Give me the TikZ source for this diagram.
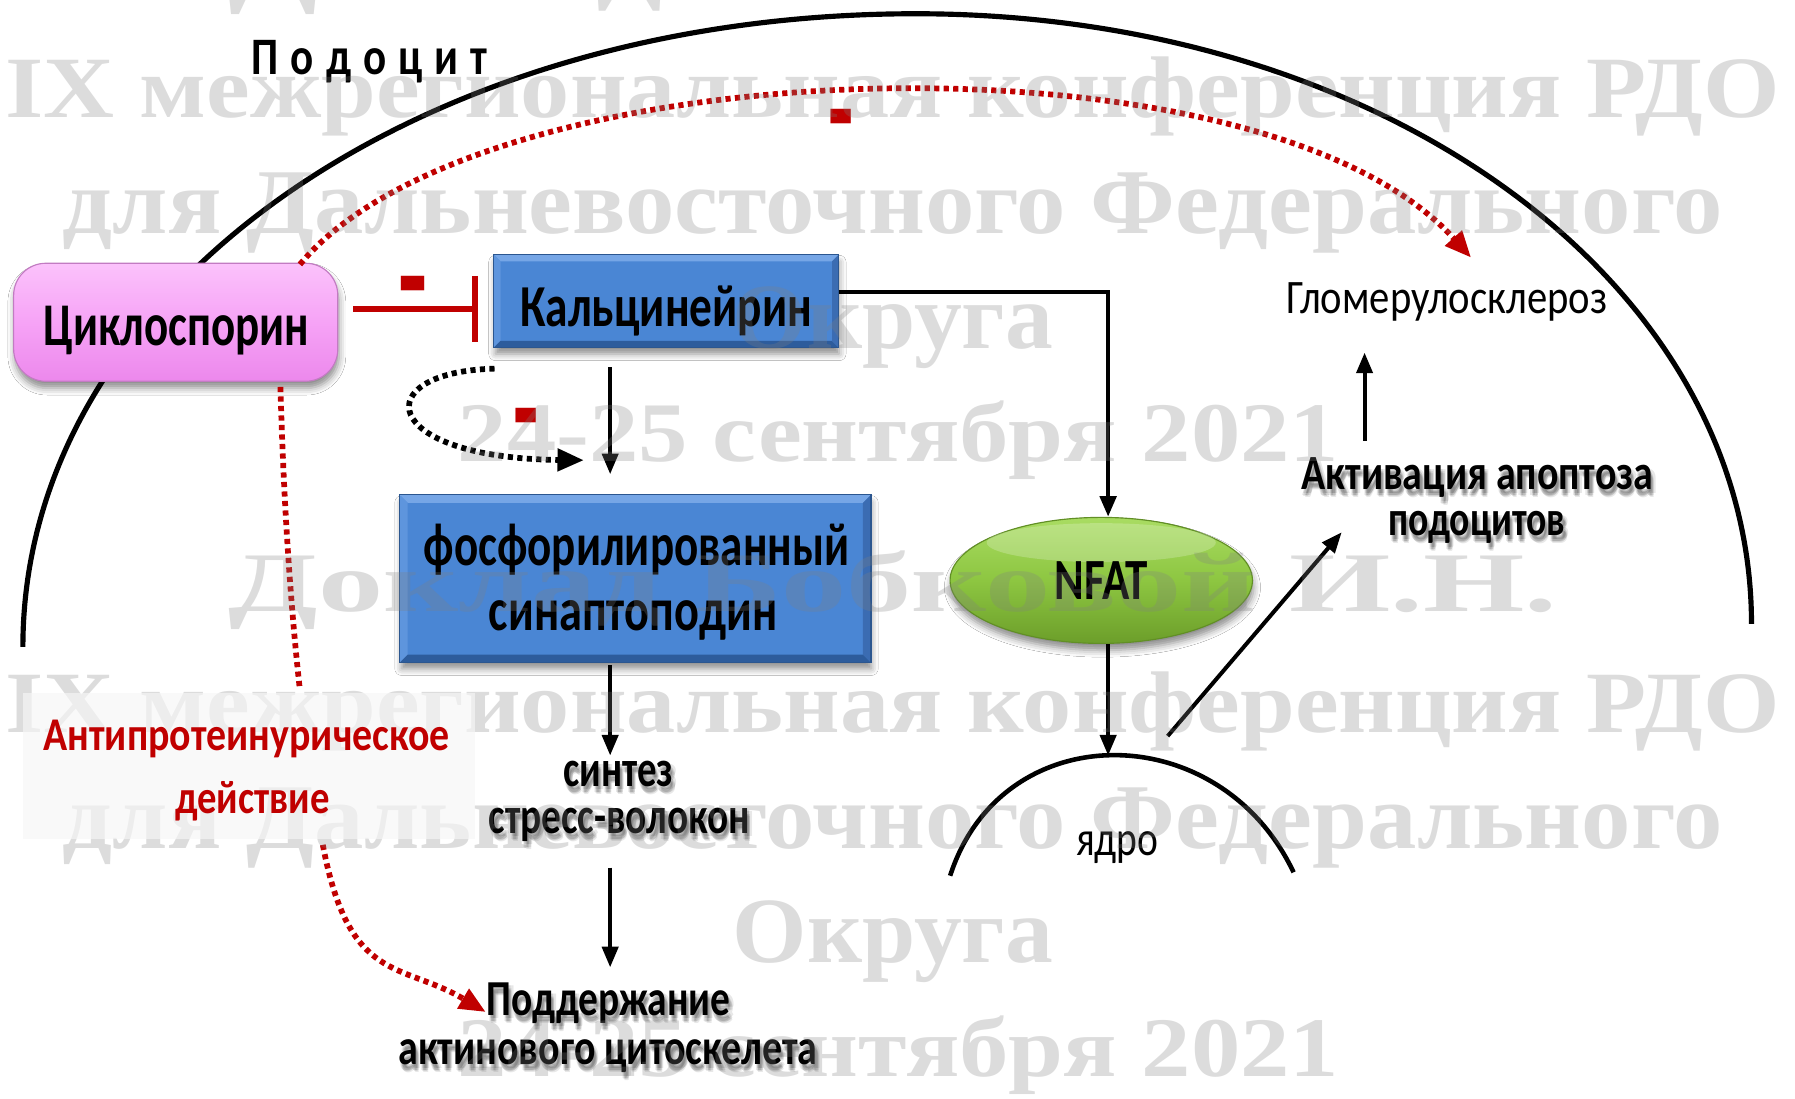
\documentclass[tikz,border=0pt]{standalone}
\usepackage{fontspec}
\setmainfont{Carlito}
\newfontfamily\wmfont{Liberation Serif}
\usetikzlibrary{arrows.meta,shapes.geometric,shadows.blur}

\newlength\upx
\setlength\upx{0.01cm}
% label of a fixed width: width, font size, text
\newcommand\fw[3]{\resizebox{#1\upx}{\height}{\fontsize{#2\upx}{#2\upx}\selectfont #3}}
% background line of a fixed width and cap height
\newcommand\wmline[3]{\resizebox{#1\upx}{#2\upx}{\wmfont\bfseries #3}}
% label with a soft shadow: options, name, base point, text
\newcommand\stxt[4][]{%
  \foreach \sx/\sy in {2/3,3/5,1/5,4/3,2/6,3/7}{\node[lbl,#1,opacity=0.09] at ([shift={(\sx,\sy)}]#3) {#4};}
  \node[lbl,#1] (#2) at (#3) {#4};}
% bevelled edges of a box: node, bevel width
\newcommand\bevel[2]{%
  \fill[bluetop] (#1.north west) -- (#1.north east) -- ([shift={(-#2,#2)}]#1.north east) -- ([shift={(#2,#2)}]#1.north west) -- cycle;
  \fill[blueleft] (#1.north west) -- ([shift={(#2,#2)}]#1.north west) -- ([shift={(#2,-#2)}]#1.south west) -- (#1.south west) -- cycle;
  \fill[bluebot] (#1.south west) -- ([shift={(#2,-#2)}]#1.south west) -- ([shift={(-#2,-#2)}]#1.south east) -- (#1.south east) -- cycle;
  \fill[blueright] (#1.south east) -- ([shift={(-#2,-#2)}]#1.south east) -- ([shift={(-#2,#2)}]#1.north east) -- (#1.north east) -- cycle;
  \draw[blueedge, line width=0.01cm] (#1.north west) rectangle (#1.south east);}

\definecolor{redc}{HTML}{C00000}
\definecolor{bluemain}{HTML}{4A86D4}
\definecolor{bluetop}{HTML}{76A6E6}
\definecolor{blueleft}{HTML}{5E95DD}
\definecolor{bluebot}{HTML}{2D5C9C}
\definecolor{blueright}{HTML}{3B6CB2}
\definecolor{blueedge}{HTML}{2B568F}
\definecolor{pinktop}{HTML}{FBC2FB}
\definecolor{pinkmid}{HTML}{F6A3F6}
\definecolor{pinkbot}{HTML}{EC88EC}
\definecolor{pinkedge}{HTML}{C27BC2}
\definecolor{greentop}{HTML}{A9DC62}
\definecolor{greenmid}{HTML}{8DC641}
\definecolor{greenbot}{HTML}{6C9E2A}
\definecolor{greenedge}{HTML}{618F25}

\begin{document}
\begin{tikzpicture}[x=0.01cm, y=-0.01cm,
  lbl/.style={inner sep=0, anchor=base, text=black},
  wm/.style={inner sep=0, anchor=base, text=gray, opacity=0.27},
  boxshadow/.style={blur shadow={shadow xshift=0.01cm, shadow yshift=-0.06cm, shadow blur radius=0.06cm, shadow opacity=45}},
  bluebox/.style={rectangle, inner sep=0, fill=bluemain, boxshadow},
  arr/.style={line width=0.035cm, -{Triangle[length=0.18cm, width=0.14cm]}},
  dottip/.style={-{Triangle[length=0.23cm, width=0.19cm]}},
  reddot/.style={draw=redc, line width=0.05cm, dash pattern=on 0.045cm off 0.038cm},
  blackdot/.style={draw=black, line width=0.05cm, dash pattern=on 0.045cm off 0.038cm},
  minus/.style={inner sep=0, text=redc, font=\fontsize{72\upx}{72\upx}\selectfont\bfseries}]

\useasboundingbox (0,0) rectangle (1568,960);
\fill[white] (0,0) rectangle (1568,960);

% cell membrane
\draw[line width=0.045cm] (20,565) .. controls (20,255) and (363,12) .. (800,12)
  .. controls (1209,12) and (1530,247) .. (1530,545);
\node[lbl] (podo) at (323,65) {\fw{206}{46}{\bfseries П\kern.28emо\kern.28emд\kern.28emо\kern.28emц\kern.28emи\kern.28emт}};

% boxes
\node[rectangle, rounded corners=0.28cm, minimum width=2.83cm, minimum height=1.03cm,
  top color=pinktop, bottom color=pinkbot, middle color=pinkmid, draw=pinkedge, line width=0.01cm, boxshadow]
  (cyc) at (153.5,281.5) {};
\node[bluebox, minimum width=3.00cm, minimum height=0.80cm] (calc) at (582,263) {};
\bevel{calc}{6}
\node[bluebox, minimum width=4.10cm, minimum height=1.45cm] (phos) at (555,505.5) {};
\bevel{phos}{7}
\node[ellipse, minimum width=2.64cm, minimum height=1.10cm, inner sep=0,
  top color=greentop, bottom color=greenbot, middle color=greenmid, draw=greenedge, line width=0.01cm, boxshadow]
  (nfat) at (962,507) {};
\fill[white, opacity=0.22] (962,474) ellipse [x radius=1.0cm, y radius=0.17cm];

% labels
\node[lbl] (cyct) at (154,302) {\fw{232}{53}{\bfseries Циклоспорин}};
\node[lbl] (calct) at (582,285) {\fw{255}{52}{\bfseries Кальцинейрин}};
\node[lbl] (phos1) at (556,494) {\fw{372}{53}{\bfseries фосфорилированный}};
\node[lbl] (phos2) at (553,551) {\fw{252}{53}{\bfseries синаптоподин}};
\node[lbl] (nfatt) at (962,524) {\fw{82}{51}{\bfseries NFAT}};
\stxt{syn1}{540,687}{\fw{96}{45}{\bfseries синтез}}
\stxt{syn2}{541,728}{\fw{228}{45}{\bfseries стресс-волокон}}
\stxt{supp1}{531.5,887}{\fw{213}{44}{\bfseries Поддержание}}
\stxt{supp2}{531,930}{\fw{366}{44}{\bfseries актинового цитоскелета}}
\stxt{apo1}{1290.5,428}{\fw{307}{43}{\bfseries Активация апоптоза}}
\stxt{apo2}{1290,468}{\fw{155}{43}{\bfseries подоцитов}}
\node[lbl] (glomt) at (1264,274) {\fw{280}{42}{Гломерулосклероз}};
\node[lbl] (nuct) at (976,747) {\fw{72}{43}{ядро}};

% nucleus
\coordinate (nuc) at (968,660);
\draw[line width=0.04cm] (830,765) .. controls (875,625) and (1065,625) .. (1130,762);

% helper verticals and levels
\coordinate (ax) at (533,0);
\coordinate (bx) at (968,0);
\coordinate (inh) at (0,270);
\coordinate (lev) at (0,255);

% inhibition of calcineurin
\draw[redc, line width=0.05cm, shorten <=0.13cm, shorten >=0.14cm,
  -{Bar[width=0.58cm, line width=0.05cm]}] (cyc.east |- inh) -- (calc.west |- inh);
\node[minus] (m1) at (361,262) {\scalebox{1.15}[1.7]{-}};

% dotted influences
\coordinate (cycA) at (262,231);
\coordinate (cycB) at (245,338);
\coordinate (glomA) at (1285,225);
\draw[reddot, dottip] (cycA) .. controls (420,40) and (1100,20) .. (glomA);
\node[minus] (m2) at (735,116) {\scalebox{1.0}[1.7]{-}};
\draw[reddot] (cycB) .. controls (248,450) and (255,540) .. (262,603);
\draw[reddot, dottip] (282,738) .. controls (305,860) and (350,840) .. (supp1.west |- 0,884);
\draw[blackdot, dottip] (432,322) .. controls (320,325) and (330,400) .. (510,402);
\node[minus] (m3) at (460,377) {\scalebox{1.0}[1.7]{-}};

% signalling arrows
\draw[arr, shorten <=0.17cm, shorten >=0.18cm] (calc.south -| ax) -- (phos.north -| ax);
\draw[arr, shorten <=0.02cm] (phos.south -| ax) -- (533,660);
\draw[arr] (533,758) -- (533,845);
\draw[arr, line width=0.04cm] (calc.east |- lev) -- (lev -| bx) -- (nfat.north -| bx);
\draw[arr] (nfat.south -| bx) -- (nuc);
\draw[arr] (1020,643) -- (1172,465);
\draw[arr] (1192,385) -- (1192,308);

% background lines
\node[wm] (wm0) at (780,-3) {\wmline{1160}{53}{Доклад Бобковой И.Н.}};
\node[wm] (wm1) at (780,103) {\wmline{1550}{53}{IX межрегиональная конференция РДО}};
\node[wm] (wm2) at (780,204) {\wmline{1450}{53}{для Дальневосточного Федерального}};
\node[wm] (wm3) at (780,304) {\wmline{280}{54}{Округа}};
\node[wm] (wm4) at (785,403) {\wmline{770}{53}{24-25 сентября 2021}};
\node[wm] (wm5) at (780,534) {\wmline{1160}{53}{Доклад Бобковой И.Н.}};
\node[wm] (wm6) at (780,640) {\wmline{1550}{53}{IX межрегиональная конференция РДО}};
\node[wm] (wm7) at (780,741) {\wmline{1450}{53}{для Дальневосточного Федерального}};
\node[wm] (wm8) at (780,841) {\wmline{280}{54}{Округа}};
\node[wm] (wm9) at (785,940) {\wmline{770}{53}{24-25 сентября 2021}};

% antiproteinuric effect
\fill[gray!6, opacity=0.65] (20,605) rectangle (415,733);
\node[lbl, text=redc] (anti1) at (215.5,656) {\fw{355}{41}{\bfseries Антипротеинурическое}};
\node[lbl, text=redc] (anti2) at (220.5,711) {\fw{135}{41}{\bfseries действие}};
\end{tikzpicture}
\end{document}
